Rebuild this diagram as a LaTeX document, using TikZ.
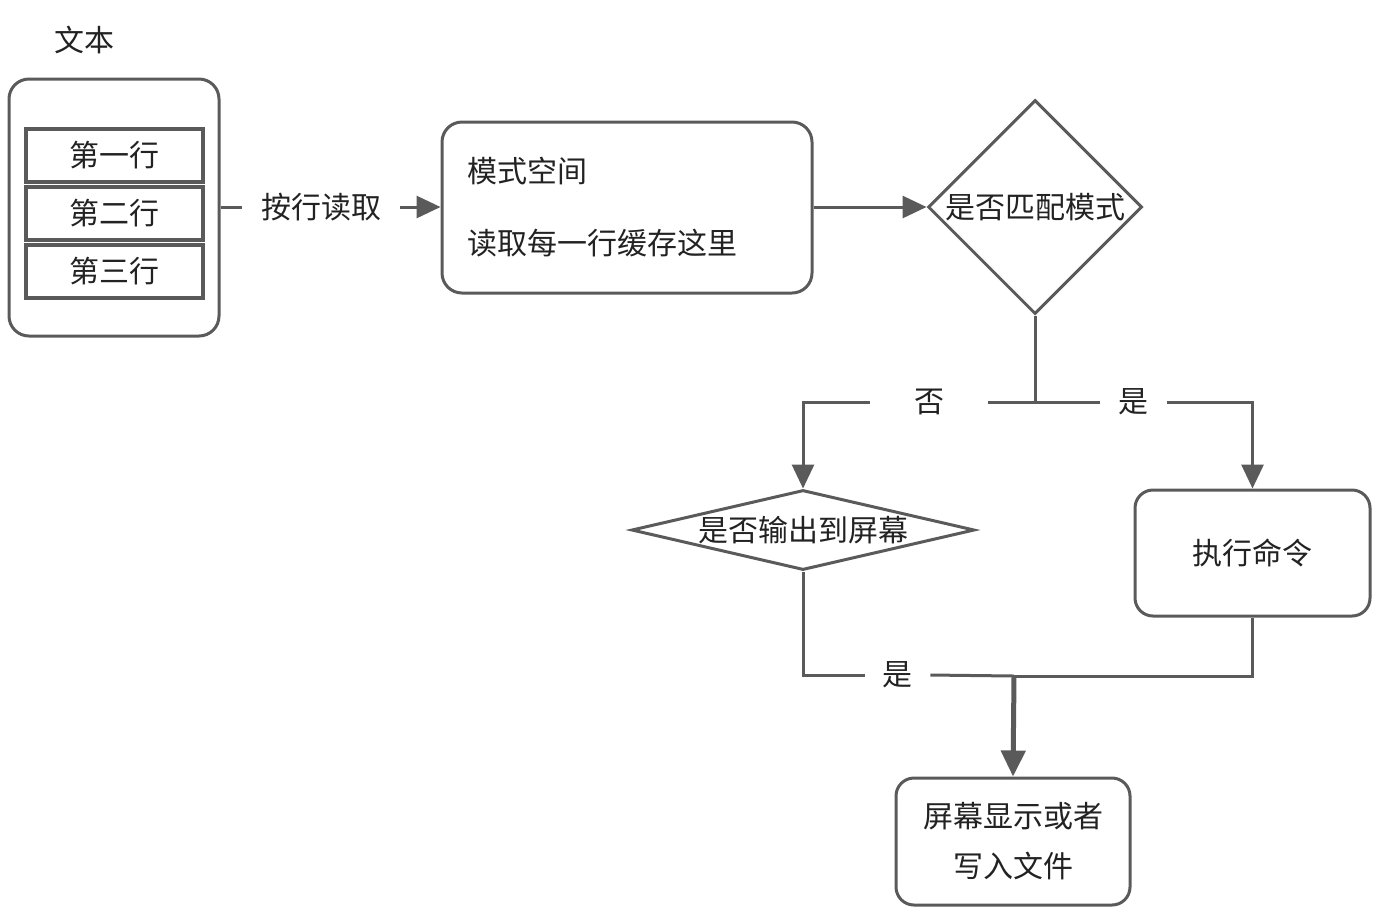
\documentclass[tikz,border=0pt]{standalone}
\usepackage{fontspec}
\newfontfamily\cjk{Noto Sans CJK SC}
\usetikzlibrary{arrows.meta,shapes.geometric}
\definecolor{lc}{HTML}{5A5A5A}
\definecolor{tc}{HTML}{222222}
\begin{document}
\begin{tikzpicture}[x=0.5pt,y=-0.5pt,
  every node/.style={font=\cjk\fontsize{15}{18}\selectfont,text=tc},
  conn/.style={draw=lc,line width=1.5pt},
  arr/.style={conn,-{Triangle[length=12pt,width=11pt]}},
  rbox/.style={draw=lc,line width=1.5pt,rounded corners=10pt,inner sep=0pt},
  linebox/.style={draw=lc,line width=2pt,minimum width=88.5pt,minimum height=26.5pt,inner sep=0pt},
  dia/.style={draw=lc,line width=1.5pt,diamond,inner sep=0pt},
  lbl/.style={inner ysep=2pt}
]
\useasboundingbox (0,0) rectangle (1379,912);
% title
\node (title) at (84,40) {文本};
% outer container
\node[rbox,minimum width=105pt,minimum height=128.5pt] (outer) at (114,207.5) {};
\node[linebox] (r1) at (114.5,155.5) {第一行};
\node[linebox] (r2) at (114.5,213.5) {第二行};
\node[linebox] (r3) at (114.5,271.5) {第三行};
% read label
\node[lbl,inner xsep=9.5pt] (read) at (321,207) {按行读取};
% pattern space box
\node[rbox,minimum width=185pt,minimum height=85.5pt,text width=160pt,inner xsep=12.5pt,align=left,
  font=\cjk\fontsize{15}{36}\selectfont] (ps) at (627,207.5) {模式空间\\读取每一行缓存这里};
% diamond 1
\node[dia,minimum width=107pt,minimum height=107pt] (d1) at (1035,207) {};
\node at (d1.center) {是否匹配模式};
% junction labels
\coordinate (j1) at (1035,402);
\node[lbl,inner xsep=22pt] (no) at (929,402) {否};
\node[lbl,inner xsep=9.25pt] (yes1) at (1133.5,402) {是};
% diamond 2
\node[dia,minimum width=171.5pt,minimum height=40pt] (d2) at (803,530) {};
\node at (d2.center) {是否输出到屏幕};
% execute box
\node[rbox,rounded corners=9pt,minimum width=117.5pt,minimum height=63pt] (exec) at (1252.5,553) {执行命令};
% yes label 2
\node[lbl,inner xsep=8.75pt] (yes2) at (897.5,675) {是};
\coordinate (j2) at (1014,676);
% output box
\node[rbox,rounded corners=9pt,minimum width=117pt,minimum height=63.5pt,align=center,
  font=\cjk\fontsize{15}{25}\selectfont] (out) at (1013,841.5) {屏幕显示或者\\写入文件};
% connectors
\draw[conn] (outer.east |- read) -- (read.west);
\draw[arr] (read.east) -- (ps.west |- read);
\draw[arr] (ps.east |- d1) -- (d1.west);
\draw[conn] (d1.south) -- (j1);
\draw[conn] (j1) -- (no.east);
\draw[arr] (no.west) -| (d2.north);
\draw[conn] (j1) -- (yes1.west);
\draw[arr] (yes1.east) -| (exec.north);
\draw[conn] (d2.south) |- (yes2.west);
\draw[conn] (yes2.east) -- (j2);
\draw[conn] (exec.south) |- (j2);
\draw[arr,line width=2.5pt,-{Triangle[length=13pt,width=12pt]}] (j2) -- (out.north);
\end{tikzpicture}
\end{document}
